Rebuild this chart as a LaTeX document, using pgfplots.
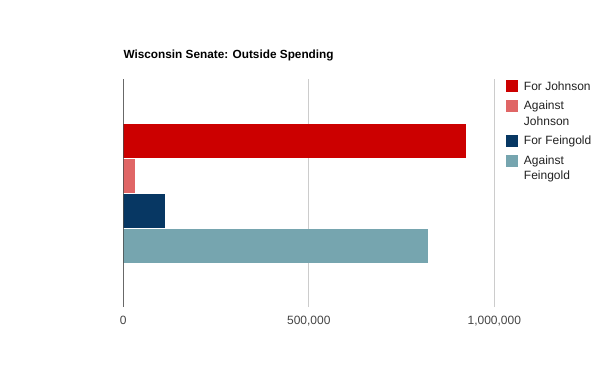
\documentclass[border=0pt]{standalone}
\usepackage{fontspec}
\setmainfont{Liberation Sans}
\usepackage{pgfplots}
\pgfplotsset{compat=1.18}
\definecolor{cJ}{HTML}{CC0000}
\definecolor{cAJ}{HTML}{E06666}
\definecolor{cF}{HTML}{073763}
\definecolor{cAF}{HTML}{76A5AF}
\definecolor{gridc}{HTML}{CCCCCC}
\definecolor{tickc}{HTML}{444444}
\definecolor{axc}{HTML}{333333}
\newcommand{\lsz}{\fontsize{12bp}{14.4bp}\selectfont}
\newcommand{\stA}{\rule[-2bp]{0pt}{16.3bp}}
\newcommand{\stB}{\rule[-2bp]{0pt}{11.8bp}}
\begin{document}
\begin{tikzpicture}
\path[use as bounding box] (0,0) rectangle (600bp,-371bp);
\begin{axis}[
  at={(123.3bp,-79bp)}, anchor=north west,
  scale only axis, width=371bp, height=228bp,
  xmin=0, xmax=1000000, ymin=-1, ymax=1,
  xtick={0,500000,1000000}, ytick=\empty,
  scaled x ticks=false,
  xticklabel style={font=\lsz, text=tickc, inner sep=0pt, yshift=-8.7bp,
    /pgf/number format/fixed, /pgf/number format/1000 sep={,}, /pgf/number format/assume math mode=true},
  major tick length=0pt,
  xmajorgrids, grid style={gridc, line width=1bp},
  axis line style={draw=none},
  title={\textbf{Wisconsin Senate: Outside Spending}},
  title style={at={(axis description cs:0,1)}, anchor=base west, yshift=14.7bp, inner sep=0pt, font=\fontsize{11.8bp}{14bp}\selectfont},
  legend style={draw=none, fill=none, inner sep=0pt, outer sep=0pt,
    at={(axis description cs:1.0315,1.0232)}, anchor=north west,
    font=\lsz, text=black!87, row sep=0pt, column sep=4bp,
    cells={anchor=base west, inner sep=0pt}},
  sq/.style={xbar, bar width=34bp, bar shift=0pt, draw=none,
    legend image code/.code={\fill[##1] (0bp,-2bp) rectangle (12bp,10bp);}},
]
\addplot[sq, fill=cJ] coordinates {(924000,0.4575)};
\addlegendentry{\stA For Johnson}
\addplot[sq, fill=cAJ] coordinates {(32000,0.1504)};
\addlegendentry{\stA Against}
\addlegendimage{empty legend}
\addlegendentry{\stB Johnson}
\addplot[sq, fill=cF] coordinates {(112000,-0.1566)};
\addlegendentry{\stA For Feingold}
\addplot[sq, fill=cAF] coordinates {(821000,-0.4649)};
\addlegendentry{\stA Against}
\addlegendimage{empty legend}
\addlegendentry{\stB Feingold}
\draw[axc, line width=1bp] (rel axis cs:0,0) -- (rel axis cs:0,1);
\end{axis}
\end{tikzpicture}
\end{document}
